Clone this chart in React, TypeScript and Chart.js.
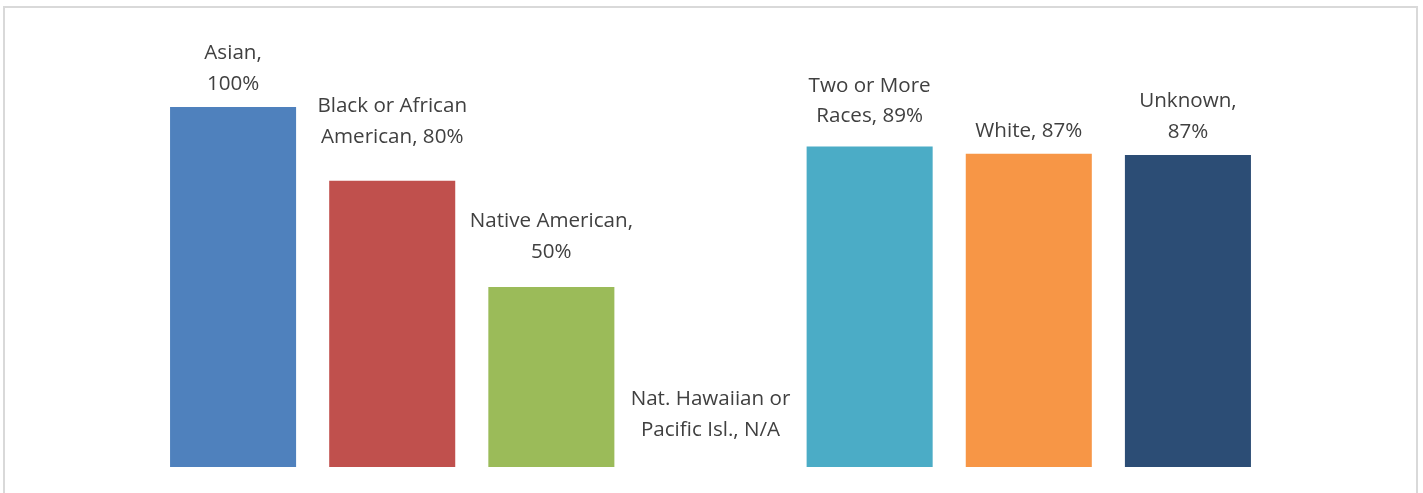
import React, { useEffect, useRef } from "react";
import { Chart, registerables } from "chart.js";

Chart.register(...registerables);

const categories = [
  "Asian",
  "Black or African American",
  "Native American",
  "Nat. Hawaiian or Pacific Isl.",
  "Two or More Races",
  "White",
  "Unknown",
];
const values: (number | null)[] = [100, 79.5, 50, null, 89, 87, 86.7];
const labelLines: string[][] = [
  ["Asian,", "100%"],
  ["Black or African", "American, 80%"],
  ["Native American,", "50%"],
  ["Nat. Hawaiian or", "Pacific Isl., N/A"],
  ["Two or More", "Races, 89%"],
  ["White, 87%"],
  ["Unknown,", "87%"],
];
const barColors = ["#4F81BD", "#C0504D", "#9BBB59", "#8064A2", "#4BACC6", "#F79646", "#2C4D75"];
// distance (px) from the bar top to the centre of the label's last line
const labelLift = [23, 44, 35, 37, 30, 23, 23];

const labelPlugin = {
  id: "barLabels",
  afterDatasetsDraw(chart: any) {
    const ctx = chart.ctx;
    const xs = chart.scales.x;
    const ys = chart.scales.y;
    ctx.save();
    ctx.font = "20.6px 'Open Sans'";
    ctx.fillStyle = "#404040";
    ctx.textAlign = "center";
    ctx.textBaseline = "middle";
    const lineH = 30.5;
    labelLines.forEach((lines, i) => {
      const v = values[i];
      const x = xs.getPixelForValue(i);
      const top = ys.getPixelForValue(v == null ? 0 : v);
      const lastY = top - labelLift[i];
      lines.forEach((ln, j) => {
        const y = lastY - (lines.length - 1 - j) * lineH;
        ctx.fillText(ln, x, y);
      });
    });
    ctx.restore();
  },
};

export default function App() {
  const ref = useRef<HTMLCanvasElement>(null);
  useEffect(() => {
    if (!ref.current) return;
    const chart = new Chart(ref.current, {
      type: "bar",
      data: {
        labels: categories,
        datasets: [
          {
            data: values as any,
            backgroundColor: barColors,
            borderWidth: 0,
            barPercentage: 0.792,
            categoryPercentage: 1,
          },
        ],
      },
      options: {
        animation: false,
        responsive: false,
        maintainAspectRatio: false,
        layout: { padding: { left: 153.5, right: 155.5, top: 107, bottom: 26 } },
        plugins: { legend: { display: false }, tooltip: { enabled: false } },
        scales: {
          x: { display: false, offset: true },
          y: { display: false, min: 0, max: 100 },
        },
      },
      plugins: [labelPlugin],
    });
    return () => chart.destroy();
  }, []);
  return (
    <div style={{ position: "absolute", left: 0, top: 0, width: 1423, height: 493, background: "#fff", overflow: "hidden" }}>
      <div
        style={{
          position: "absolute",
          left: 3,
          top: 6,
          width: 1411,
          height: 520,
          border: "2px solid #d9d9d9",
        }}
      />
      <canvas ref={ref} width={1423} height={493} style={{ position: "absolute", left: 0, top: 0 }} />
    </div>
  );
}
